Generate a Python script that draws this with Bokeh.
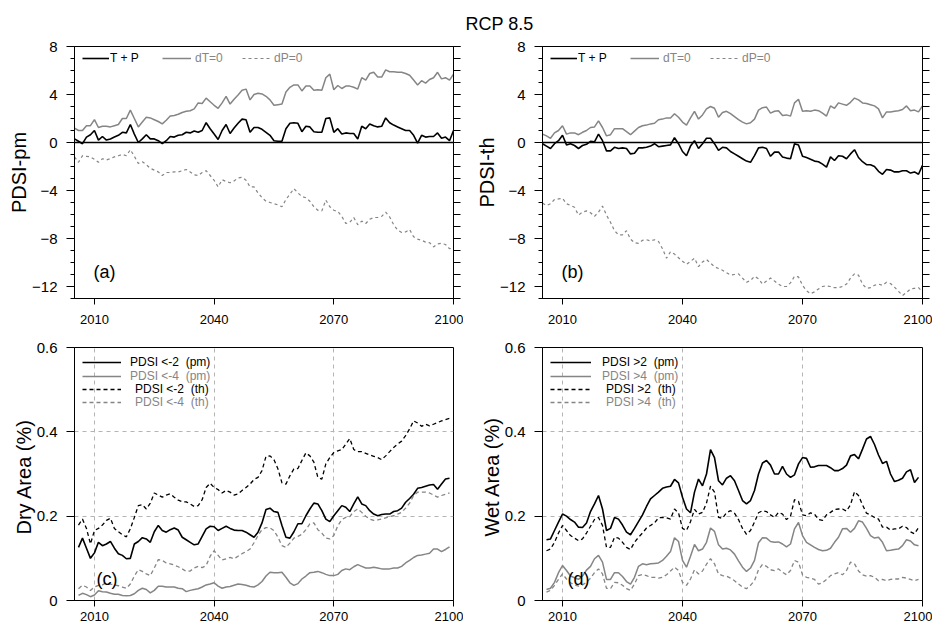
from bokeh.plotting import figure
from bokeh.layouts import column, row
from bokeh.models import (Legend, LegendItem, Span, Label, FixedTicker,
                          LinearAxis, Range1d)
from bokeh.embed import file_html
from bokeh.resources import INLINE

# ---------------- data ----------------
years_ab = list(range(2005, 2101))
years_cd = list(range(2006, 2100))

pm_tp = [0.3, 0.1, -0.1, 0.45, 0.65, 1.0, 0.2, 0.5, 0.2, 0.3,
         0.45, 0.6, 0.85, 0.8, 1.5, 0.7, 0.0, 0.3, 0.65, 0.3,
         0.3, 0.15, -0.1, 0.15, 0.5, 0.45, 0.6, 0.65, 0.85, 0.8,
         0.95, 0.85, 1.0, 1.65, 1.15, 0.7, 0.25, 1.0, 1.5, 0.75,
         1.2, 1.6, 1.95, 1.9, 0.85, 1.25, 1.25, 1.1, 0.85, 0.6,
         0.15, 0.1, 0.1, 1.15, 1.6, 1.65, 1.6, 0.9, 1.35, 1.3,
         0.9, 0.85, 0.85, 2.0, 2.05, 0.85, 1.15, 0.7, 0.8, 0.75,
         0.75, 0.3, 1.35, 1.15, 1.55, 1.4, 1.3, 1.35, 2.05, 1.65,
         1.45, 1.3, 1.15, 1.0, 1.0, 0.6, -0.05, 0.6, 0.45, 0.5,
         0.5, 0.8, 0.35, 0.45, 0.15, 1.0]
pm_dt = [1.2, 1.0, 1.0, 1.4, 1.4, 1.9, 1.25, 1.35, 1.35, 1.3,
         1.4, 1.5, 2.0, 2.0, 2.7, 2.0, 1.3, 1.7, 2.1, 2.05,
         1.9, 1.75, 1.55, 1.85, 2.2, 2.25, 2.35, 2.5, 2.6, 2.65,
         2.8, 3.3, 3.25, 3.7, 3.4, 3.1, 2.85, 3.3, 3.85, 3.2,
         3.6, 3.95, 4.35, 4.45, 3.55, 4.0, 4.1, 4.05, 3.85, 3.55,
         3.1, 3.15, 3.2, 4.2, 4.6, 4.8, 4.8, 4.3, 4.7, 4.7,
         4.35, 4.4, 4.35, 5.4, 5.7, 4.4, 4.75, 4.5, 4.7, 4.7,
         4.6, 4.45, 5.4, 5.2, 5.75, 5.85, 5.45, 5.45, 6.05, 5.9,
         5.9, 5.85, 5.85, 5.75, 5.6, 5.2, 4.8, 5.15, 4.95, 5.25,
         5.4, 5.85, 5.3, 5.4, 5.2, 5.7]
pm_dp = [-1.2, -1.65, -1.1, -1.15, -1.2, -1.4, -1.65, -1.35, -1.45, -1.35,
         -1.2, -1.1, -1.0, -1.1, -0.6, -1.15, -1.75, -1.6, -1.85, -2.15,
         -2.3, -2.45, -2.75, -2.5, -2.5, -2.45, -2.45, -2.35, -2.25, -2.45,
         -2.7, -2.75, -2.5, -2.35, -2.75, -3.15, -3.7, -3.1, -3.25, -3.35,
         -3.2, -2.95, -2.9, -3.15, -3.7, -3.7, -4.2, -4.6, -4.9, -5.0,
         -5.1, -5.2, -5.35, -4.75, -4.3, -3.85, -4.2, -4.5, -4.6, -4.9,
         -5.35, -5.65, -5.7, -4.8, -5.35, -5.65, -5.75, -6.15, -6.75, -6.65,
         -6.25, -6.85, -6.55, -6.75, -6.4, -6.25, -6.25, -6.15, -5.8, -6.2,
         -6.85, -7.3, -7.5, -7.45, -7.25, -7.85, -8.05, -8.15, -8.3, -8.35,
         -8.7, -8.45, -8.4, -8.5, -8.85, -8.8]

th_tp = [-0.1, -0.3, -0.5, -0.1, 0.15, 0.6, -0.2, -0.1, -0.25, -0.5,
         -0.25, -0.15, 0.1, 0.05, 0.7, 0.15, -0.7, -0.7, -0.4, -0.5,
         -0.45, -0.5, -0.95, -0.9, -0.45, -0.45, -0.4, -0.3, -0.1, -0.35,
         -0.3, -0.25, -0.2, 0.4, -0.1, -0.75, -1.1, -0.3, 0.15, -0.5,
         -0.1, 0.35, 0.35, -0.1, -0.65, -0.4, -0.45, -0.75, -0.95, -1.15,
         -1.35, -1.55, -1.65, -1.1, -0.45, -0.4, -0.5, -1.15, -0.8, -0.8,
         -1.2, -1.3, -1.35, -0.1, -0.2, -1.15, -1.25, -1.4, -1.55, -1.6,
         -1.8, -2.05, -1.2, -1.5, -1.1, -1.15, -1.35, -0.95, -0.6, -1.25,
         -1.6, -1.85, -1.85, -2.0, -2.4, -2.65, -2.25, -2.3, -2.45, -2.45,
         -2.35, -2.35, -2.55, -2.45, -2.65, -1.9]
th_dt = [0.7, 0.55, 0.35, 0.8, 1.0, 1.4, 0.7, 0.8, 0.8, 0.65,
         0.85, 1.0, 1.25, 1.3, 1.8, 1.25, 0.55, 0.65, 1.15, 1.15,
         1.15, 0.9, 0.65, 0.95, 1.25, 1.4, 1.45, 1.55, 1.6, 1.9,
         1.95, 2.05, 2.05, 2.4, 2.1, 1.7, 1.45, 2.05, 2.6, 1.95,
         2.3, 2.8, 3.0, 2.85, 2.1, 2.5, 2.6, 2.4, 2.15, 1.9,
         1.7, 1.55, 1.65, 1.95, 2.7, 2.9, 2.95, 2.45, 2.6, 2.65,
         2.25, 2.3, 2.2, 3.3, 3.6, 2.6, 2.65, 2.6, 2.7, 2.65,
         2.45, 2.2, 3.05, 2.85, 3.3, 3.2, 3.1, 3.35, 3.7, 3.55,
         3.3, 3.25, 3.15, 3.05, 2.8, 2.05, 2.55, 2.55, 2.6, 2.65,
         2.75, 3.05, 2.65, 2.7, 2.55, 3.05]
th_dp = [-5.05, -5.25, -5.1, -4.75, -4.7, -4.65, -5.1, -5.25, -5.4, -6.05,
         -5.8, -5.7, -5.85, -6.15, -5.8, -5.3, -6.05, -6.65, -7.35, -7.7,
         -7.7, -7.35, -8.05, -8.35, -8.4, -8.15, -8.1, -8.2, -8.1, -8.25,
         -8.85, -9.65, -9.1, -9.3, -9.6, -9.9, -10.15, -9.9, -9.65, -10.35,
         -9.95, -9.75, -10.05, -10.35, -10.5, -10.65, -10.85, -11.05, -11.0, -10.95,
         -11.3, -11.65, -11.5, -11.15, -11.35, -11.8, -11.55, -11.3, -11.55, -11.8,
         -12.0, -12.0, -11.7, -11.15, -11.2, -11.9, -12.35, -12.6, -12.45, -12.2,
         -12.0, -11.95, -12.0, -12.1, -12.1, -12.0, -11.8, -11.3, -10.95, -11.05,
         -11.8, -12.15, -12.1, -11.9, -11.8, -11.9, -11.65, -11.75, -12.05, -12.4,
         -12.75, -12.5, -12.2, -12.15, -12.1, -12.45]

dry_pm2 = [0.126, 0.148, 0.124, 0.100, 0.113, 0.138, 0.130, 0.134, 0.140, 0.124,
           0.111, 0.107, 0.099, 0.100, 0.134, 0.140, 0.149, 0.146, 0.138, 0.163,
           0.178, 0.166, 0.162, 0.168, 0.172, 0.167, 0.150, 0.144, 0.138, 0.132,
           0.134, 0.152, 0.170, 0.176, 0.175, 0.166, 0.171, 0.176, 0.171, 0.167,
           0.166, 0.166, 0.162, 0.156, 0.150, 0.162, 0.184, 0.216, 0.219, 0.211,
           0.209, 0.178, 0.150, 0.148, 0.163, 0.182, 0.182, 0.201, 0.217, 0.231,
           0.229, 0.213, 0.193, 0.187, 0.201, 0.213, 0.225, 0.221, 0.211, 0.229,
           0.246, 0.229, 0.225, 0.213, 0.205, 0.201, 0.204, 0.205, 0.205, 0.211,
           0.213, 0.219, 0.233, 0.242, 0.252, 0.266, 0.268, 0.271, 0.274, 0.275,
           0.264, 0.276, 0.288, 0.290]
dry_pm4 = [0.012, 0.017, 0.014, 0.009, 0.013, 0.023, 0.021, 0.020, 0.017, 0.015,
           0.015, 0.012, 0.011, 0.012, 0.016, 0.024, 0.029, 0.026, 0.018, 0.024,
           0.034, 0.034, 0.032, 0.032, 0.032, 0.029, 0.028, 0.021, 0.024, 0.026,
           0.028, 0.032, 0.037, 0.039, 0.042, 0.034, 0.029, 0.032, 0.033, 0.036,
           0.039, 0.038, 0.036, 0.033, 0.032, 0.037, 0.045, 0.058, 0.067, 0.066,
           0.066, 0.067, 0.055, 0.042, 0.036, 0.040, 0.051, 0.058, 0.066, 0.067,
           0.069, 0.066, 0.062, 0.059, 0.059, 0.062, 0.071, 0.075, 0.073, 0.080,
           0.085, 0.081, 0.077, 0.077, 0.079, 0.077, 0.075, 0.075, 0.075, 0.077,
           0.077, 0.081, 0.089, 0.095, 0.102, 0.107, 0.108, 0.110, 0.112, 0.122,
           0.122, 0.116, 0.121, 0.127]
dry_th2 = [0.179, 0.193, 0.171, 0.134, 0.166, 0.171, 0.179, 0.190, 0.195, 0.171,
           0.163, 0.156, 0.151, 0.170, 0.197, 0.225, 0.227, 0.217, 0.231, 0.255,
           0.250, 0.245, 0.250, 0.253, 0.245, 0.238, 0.234, 0.234, 0.229, 0.223,
           0.225, 0.239, 0.268, 0.278, 0.268, 0.263, 0.255, 0.261, 0.257, 0.250,
           0.253, 0.261, 0.268, 0.276, 0.287, 0.292, 0.308, 0.342, 0.343, 0.334,
           0.312, 0.279, 0.276, 0.296, 0.312, 0.313, 0.332, 0.350, 0.343, 0.328,
           0.292, 0.288, 0.324, 0.339, 0.351, 0.355, 0.358, 0.371, 0.384, 0.358,
           0.353, 0.353, 0.349, 0.345, 0.342, 0.339, 0.334, 0.343, 0.353, 0.363,
           0.371, 0.378, 0.391, 0.407, 0.426, 0.421, 0.413, 0.418, 0.414, 0.418,
           0.422, 0.426, 0.429, 0.432]
dry_th4 = [0.028, 0.036, 0.032, 0.024, 0.032, 0.036, 0.037, 0.042, 0.039, 0.037,
           0.035, 0.032, 0.029, 0.039, 0.058, 0.073, 0.069, 0.063, 0.059, 0.077,
           0.097, 0.095, 0.089, 0.087, 0.084, 0.080, 0.075, 0.069, 0.070, 0.077,
           0.081, 0.078, 0.083, 0.105, 0.118, 0.107, 0.096, 0.099, 0.102, 0.099,
           0.105, 0.111, 0.116, 0.122, 0.137, 0.154, 0.168, 0.173, 0.172, 0.166,
           0.150, 0.130, 0.126, 0.136, 0.148, 0.152, 0.157, 0.168, 0.182, 0.184,
           0.168, 0.160, 0.148, 0.146, 0.154, 0.177, 0.192, 0.197, 0.199, 0.211,
           0.217, 0.209, 0.200, 0.193, 0.190, 0.191, 0.193, 0.196, 0.199, 0.201,
           0.205, 0.209, 0.219, 0.231, 0.249, 0.257, 0.257, 0.257, 0.255, 0.250,
           0.245, 0.249, 0.252, 0.255]

wet_pm2 = [0.144, 0.146, 0.166, 0.186, 0.205, 0.200, 0.192, 0.186, 0.174, 0.173,
           0.184, 0.211, 0.229, 0.249, 0.217, 0.166, 0.171, 0.197, 0.193, 0.179,
           0.162, 0.156, 0.171, 0.187, 0.203, 0.223, 0.241, 0.249, 0.257, 0.266,
           0.269, 0.271, 0.287, 0.279, 0.245, 0.217, 0.208, 0.257, 0.288, 0.272,
           0.300, 0.358, 0.339, 0.284, 0.274, 0.290, 0.296, 0.284, 0.261, 0.237,
           0.229, 0.237, 0.261, 0.300, 0.326, 0.332, 0.321, 0.300, 0.300, 0.318,
           0.300, 0.292, 0.298, 0.324, 0.339, 0.337, 0.316, 0.317, 0.320, 0.320,
           0.320, 0.315, 0.308, 0.308, 0.313, 0.321, 0.343, 0.346, 0.336, 0.359,
           0.383, 0.389, 0.370, 0.345, 0.325, 0.330, 0.300, 0.282, 0.285, 0.290,
           0.305, 0.310, 0.280, 0.292]
wet_pm4 = [0.026, 0.029, 0.043, 0.066, 0.083, 0.071, 0.058, 0.054, 0.050, 0.058,
           0.072, 0.081, 0.099, 0.107, 0.091, 0.050, 0.050, 0.066, 0.066, 0.057,
           0.045, 0.039, 0.055, 0.081, 0.087, 0.085, 0.087, 0.088, 0.089, 0.095,
           0.105, 0.116, 0.149, 0.140, 0.095, 0.079, 0.105, 0.133, 0.118, 0.122,
           0.138, 0.172, 0.164, 0.132, 0.122, 0.124, 0.120, 0.110, 0.094, 0.079,
           0.069, 0.077, 0.095, 0.137, 0.149, 0.148, 0.140, 0.138, 0.139, 0.134,
           0.127, 0.134, 0.170, 0.185, 0.154, 0.138, 0.132, 0.126, 0.121, 0.118,
           0.119, 0.124, 0.138, 0.150, 0.170, 0.171, 0.162, 0.171, 0.189, 0.186,
           0.171, 0.154, 0.148, 0.150, 0.138, 0.118, 0.119, 0.121, 0.122, 0.130,
           0.144, 0.141, 0.132, 0.130]
wet_th2 = [0.118, 0.122, 0.138, 0.160, 0.178, 0.166, 0.154, 0.148, 0.142, 0.146,
           0.160, 0.176, 0.192, 0.197, 0.178, 0.126, 0.126, 0.150, 0.148, 0.138,
           0.126, 0.121, 0.138, 0.150, 0.160, 0.172, 0.178, 0.184, 0.196, 0.197,
           0.196, 0.193, 0.217, 0.208, 0.171, 0.166, 0.187, 0.216, 0.205, 0.209,
           0.231, 0.271, 0.257, 0.197, 0.195, 0.208, 0.213, 0.207, 0.192, 0.171,
           0.157, 0.166, 0.186, 0.208, 0.213, 0.211, 0.203, 0.197, 0.209, 0.205,
           0.192, 0.200, 0.239, 0.235, 0.203, 0.201, 0.208, 0.205, 0.192, 0.190,
           0.203, 0.209, 0.216, 0.217, 0.217, 0.212, 0.227, 0.258, 0.249, 0.227,
           0.207, 0.203, 0.197, 0.193, 0.174, 0.174, 0.167, 0.170, 0.170, 0.176,
           0.173, 0.163, 0.158, 0.173]
wet_th4 = [0.020, 0.024, 0.036, 0.050, 0.063, 0.051, 0.042, 0.037, 0.034, 0.037,
           0.043, 0.053, 0.066, 0.075, 0.063, 0.029, 0.028, 0.043, 0.042, 0.036,
           0.028, 0.024, 0.039, 0.059, 0.062, 0.059, 0.055, 0.055, 0.053, 0.055,
           0.061, 0.070, 0.079, 0.071, 0.043, 0.036, 0.051, 0.073, 0.063, 0.070,
           0.086, 0.099, 0.087, 0.063, 0.059, 0.058, 0.053, 0.047, 0.039, 0.032,
           0.028, 0.036, 0.047, 0.073, 0.086, 0.081, 0.073, 0.071, 0.075, 0.067,
           0.061, 0.071, 0.095, 0.091, 0.061, 0.055, 0.053, 0.050, 0.039, 0.042,
           0.050, 0.059, 0.063, 0.066, 0.061, 0.071, 0.091, 0.087, 0.070, 0.061,
           0.058, 0.059, 0.055, 0.047, 0.050, 0.047, 0.050, 0.051, 0.051, 0.055,
           0.053, 0.050, 0.047, 0.050]

x_ticks = [2010, 2040, 2070, 2100]
pdsi_ticks = [-12, -8, -4, 0, 4, 8]
pdsi_minor = list(range(-13, 9))
area_ticks = [0, 0.2, 0.4, 0.6]
area_labels = {0: "0", 0.2: "0.2", 0.4: "0.4", 0.6: "0.6"}

ab_legend = ["T + P", "dT=0", "dP=0"]
dry_legend = ["PDSI <-2  (pm)", "PDSI <-4  (pm)", "PDSI <-2  (th)", "PDSI <-4  (th)"]
wet_legend = ["PDSI >2  (pm)", "PDSI >4  (pm)", "PDSI >2  (th)", "PDSI >4  (th)"]

# ---------------- style ----------------
FONT = "Liberation Sans"
GREY = "#858585"
BLACK = "#000000"
GRID = "#b4b4b4"


def make_fig(frame_w, frame_h, yr, mbl, mbr, mbt, mbb, xstand):
    p = figure(frame_width=frame_w, frame_height=frame_h,
               x_range=Range1d(2005, 2100), y_range=Range1d(*yr),
               output_backend="svg", toolbar_location=None,
               min_border_left=mbl, min_border_right=mbr,
               min_border_top=mbt, min_border_bottom=mbb)
    p.outline_line_color = "black"
    p.outline_line_width = 1
    p.background_fill_color = "white"
    p.border_fill_color = "white"
    xa = p.xaxis[0]
    xa.ticker = FixedTicker(ticks=x_ticks)
    xa.major_tick_out = 6
    xa.major_tick_in = 0
    xa.minor_tick_out = 0
    xa.minor_tick_in = 0
    xa.major_label_standoff = xstand
    xa.major_label_text_font = FONT
    xa.major_label_text_font_size = "13px"
    xa.major_label_text_color = "black"
    xa.axis_line_color = "black"
    xa.major_tick_line_color = "black"
    return p


def style_y(ax, label):
    ax.major_tick_out = 8
    ax.major_tick_in = 0
    ax.minor_tick_out = 4
    ax.minor_tick_in = 0
    ax.major_label_standoff = 9
    ax.major_label_text_font = FONT
    ax.major_label_text_font_size = "15px"
    ax.major_label_text_color = "black"
    ax.axis_line_color = "black"
    ax.major_tick_line_color = "black"
    ax.minor_tick_line_color = "black"
    ax.axis_label = label
    ax.axis_label_text_font = FONT
    ax.axis_label_text_font_size = "20px"
    ax.axis_label_text_font_style = "normal"
    ax.axis_label_text_color = "black"
    ax.axis_label_standoff = -1


def one_legend(p, label, rend, x, y, color, gw, standoff, fs="12px"):
    leg = Legend(items=[LegendItem(label=label, renderers=[rend])],
                 location=(x, y), orientation="vertical",
                 padding=0, margin=0, spacing=0,
                 border_line_alpha=0, background_fill_alpha=0,
                 label_text_font=FONT, label_text_font_size=fs,
                 label_text_color=color, glyph_width=gw, glyph_height=12,
                 label_height=12, label_standoff=standoff)
    p.add_layout(leg)


def pdsi_panel(vals, ylabel, tag, fw, mbl, mbr):
    tp, dt, dp = vals
    fh = 252
    p = make_fig(fw, fh, (-13, 8), mbl, mbr, 10, 39, 10)
    p.grid.visible = False
    ya = p.yaxis[0]
    ya.ticker = FixedTicker(ticks=pdsi_ticks, minor_ticks=pdsi_minor)
    style_y(ya, ylabel)
    ra = LinearAxis(ticker=FixedTicker(ticks=pdsi_ticks, minor_ticks=pdsi_minor))
    ra.major_tick_out = 7
    ra.major_tick_in = 0
    ra.minor_tick_out = 7
    ra.minor_tick_in = 0
    ra.major_label_text_font_size = "1px"
    ra.major_label_text_color = None
    ra.major_label_standoff = 0
    ra.axis_line_color = "black"
    p.add_layout(ra, "right")
    p.add_layout(Span(location=0, dimension="width", line_color="black", line_width=1.3))
    r1 = p.line(years_ab, tp, line_color=BLACK, line_width=1.6)
    r2 = p.line(years_ab, dt, line_color=GREY, line_width=1.5)
    r3 = p.line(years_ab, dp, line_color=GREY, line_width=1.2, line_dash="3 3")
    one_legend(p, ab_legend[0], r1, 8, fh - 19, BLACK, 27, 1)
    one_legend(p, ab_legend[1], r2, 88, fh - 19, GREY, 29, 4)
    one_legend(p, ab_legend[2], r3, 168, fh - 19, GREY, 29, 3)
    p.add_layout(Label(x=19, y=27, x_units="screen", y_units="screen", text=tag,
                       text_font=FONT, text_font_size="18px", text_baseline="middle",
                       text_color="black"))
    return p


def area_panel(vals, ylabel, tag, labels, fw, mbl, mbr, gw, st1, st2, tagx):
    s1, s2, s3, s4 = vals
    fh = 253
    p = make_fig(fw, fh, (0, 0.6), mbl, mbr, 10, 26, 5)
    ya = p.yaxis[0]
    ya.ticker = FixedTicker(ticks=area_ticks)
    ya.major_label_overrides = area_labels
    style_y(ya, ylabel)
    p.xgrid[0].ticker = FixedTicker(ticks=[2010, 2040, 2070])
    p.ygrid[0].ticker = FixedTicker(ticks=[0.2, 0.4])
    for g in (p.xgrid[0], p.ygrid[0]):
        g.grid_line_color = GRID
        g.grid_line_dash = "4 4"
        g.grid_line_width = 1
    r1 = p.line(years_cd, s1, line_color=BLACK, line_width=1.6)
    r2 = p.line(years_cd, s2, line_color=GREY, line_width=1.5)
    r3 = p.line(years_cd, s3, line_color=BLACK, line_width=1.3, line_dash="4 3")
    r4 = p.line(years_cd, s4, line_color=GREY, line_width=1.3, line_dash="4 3")
    rows = [15, 29, 42, 55]
    one_legend(p, labels[0], r1, 8, fh - rows[0] - 7, BLACK, gw, st1)
    one_legend(p, labels[1], r2, 8, fh - rows[1] - 7, GREY, gw, st1)
    one_legend(p, labels[2], r3, 8, fh - rows[2] - 7, BLACK, gw, st2)
    one_legend(p, labels[3], r4, 8, fh - rows[3] - 7, GREY, gw, st2)
    p.add_layout(Label(x=tagx, y=22, x_units="screen", y_units="screen", text=tag,
                       text_font=FONT, text_font_size="18px", text_baseline="middle",
                       text_color="black"))
    return p


pa = pdsi_panel((pm_tp, pm_dt, pm_dp), "PDSI-pm", "(a)", 379, 74, 10)
pb = pdsi_panel((th_tp, th_dt, th_dp), "PDSI-th", "(b)", 380, 79, 10)
pc = area_panel((dry_pm2, dry_pm4, dry_th2, dry_th4), "Dry  Area (%)", "(c)",
                dry_legend, 379, 74, 10, 39, 9, 14, 22)
pd = area_panel((wet_pm2, wet_pm4, wet_th2, wet_th4), "Wet  Area (%)", "(d)",
                wet_legend, 380, 79, 10, 41, 11, 15, 25)

title = figure(width=932, height=36, output_backend="svg", toolbar_location=None,
               x_axis_type=None, y_axis_type=None, min_border=0,
               x_range=Range1d(0, 1), y_range=Range1d(0, 1))
title.outline_line_color = None
title.grid.visible = False
title.add_layout(Label(x=499, y=12.5, x_units="screen", y_units="screen", text="RCP 8.5",
                       text_font=FONT, text_font_size="18px", text_align="center",
                       text_baseline="alphabetic", text_color="black"))

layout = column(title, row(pa, pb), row(pc, pd))

with open("out.html", "w") as f:
    f.write(file_html(layout, INLINE))
